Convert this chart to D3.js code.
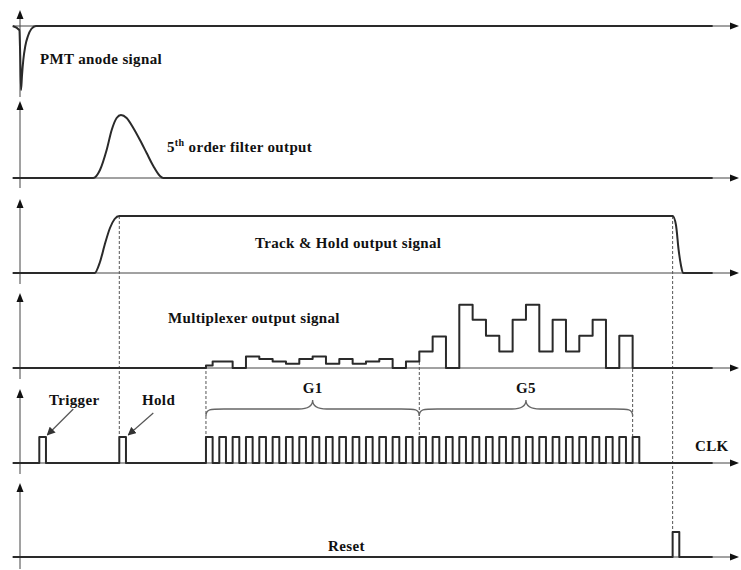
<!DOCTYPE html>
<html><head><meta charset="utf-8">
<script src="https://cdn.jsdelivr.net/npm/d3@7"></script>
<style>
body{margin:0;background:#fff}
text{font-family:"Liberation Serif","Times New Roman",serif;font-weight:bold;font-size:15px;fill:#111;letter-spacing:0.35px}
</style>
</head><body><svg id="c" width="741" height="570"></svg>
<script>
// time axis in clock periods (t = 0 at the first multiplexer clock)
const timeDomain = [-14, 40];
const signalEnd = 38;
const signalStart = -14.5;

// PMT anode signal (negative spike)
const pmtT = [-14.5, -14.0, -13.93, -13.87, -13.8, -13.7, -13.55, -13.35, -13.1, -12.75];
const pmtV = [0, -4, -30, -64, -50, -34, -20, -10, -3, 0];

// 5th order filter output
const filterT = [-14.5, -8.45, -7.95, -7.45, -7.07, -6.7, -6.375, -5.95, -5.45, -4.95, -4.45, -3.95, -3.45, -3.2];
const filterV = [0, 0, 8, 28, 48, 60, 63, 60, 50, 38, 25, 12, 2, 0];

// Track & Hold output
const holdT = [-14.5, -8.35, -7.95, -7.6, -7.2, -6.85, -6.5, 35.0, 35.25, 35.45, 35.62, 35.78];
const holdV = [0, 0, 11, 28, 45, 54, 57, 57, 48, 23, 8, 0];

// Multiplexer output: step start times and levels
const muxT = [-14.5, 0, 0.5, 2, 3, 4, 5, 6, 7, 8, 9, 10, 11, 12, 13, 14, 15, 16, 17, 18, 19, 20, 21, 22, 23, 24, 25, 26, 27, 28, 29, 30, 31, 32];
const muxV = [0, 2.6, 6.6, 0, 11.6, 9, 6.6, 4.3, 9, 11.6, 4.3, 9, 4.3, 6.6, 9, 0, 6.6, 16.6, 31.6, 0, 63.3, 48.3, 32.3, 16.6, 48.3, 63.3, 16.6, 48.3, 16.6, 32.3, 48.3, 0, 32.3, 0];

// CLK panel pulses (rise times), pulse width half a period
const triggerRise = [-12.5];
const holdRise = [-6.5];
const clockRise = [0, 1, 2, 3, 4, 5, 6, 7, 8, 9, 10, 11, 12, 13, 14, 15, 16, 17, 18, 19, 20, 21, 22, 23, 24, 25, 26, 27, 28, 29, 30, 31, 32];
const clkHigh = 26;
const resetRise = [35.0];
const resetHigh = 25;
const pulseWidth = 0.5;

// group braces
const groups = [{name: "G1", from: 0, to: 16}, {name: "G5", from: 16, to: 32}];
// marker (dashed) lines
const markers = [-6.5, 0, 16, 32, 35];

const svg = d3.select("#c");
const x = d3.scaleLinear().domain(timeDomain).range([19.3, 739.3]);

const baselines = [26, 178, 273, 368, 463, 557];
const tops = [10, 101, 199, 293, 389, 483];
const bottoms = [97, 188, 284, 379, 474, 569];
const yS = baselines.map(b => d3.scaleLinear().domain([0, 100]).range([b, b - 100]));

const axisCol = "#444", sigCol = "#2a2a2a";

// axes
baselines.forEach((b, i) => {
  svg.append("line").attr("x1", 20).attr("x2", 20).attr("y1", tops[i] + 4).attr("y2", bottoms[i])
    .attr("stroke", axisCol).attr("stroke-width", 1);
  svg.append("path").attr("d", `M20,${tops[i]} L16.5,${tops[i] + 9} L23.5,${tops[i] + 9} Z`).attr("fill", "#111");
  svg.append("line").attr("x1", 13).attr("x2", 733).attr("y1", b).attr("y2", b)
    .attr("stroke", axisCol).attr("stroke-width", 1);
  svg.append("path").attr("d", `M739,${b} L730,${b - 3.5} L730,${b + 3.5} Z`).attr("fill", "#111");
});

// dashed markers
const markerSpan = {"-6.5": [216, 437], "0": [366, 437], "16": [362, 437], "32": [369, 437], "35": [216, 532]};
markers.forEach(t => {
  const s = markerSpan[String(t)];
  svg.append("line").attr("x1", x(t)).attr("x2", x(t)).attr("y1", s[0]).attr("y2", s[1])
    .attr("stroke", "#555").attr("stroke-width", 1).attr("stroke-dasharray", "3,2");
});

function sig(ts, vs, i, curve) {
  const pts = ts.map((t, k) => [t, vs[k]]);
  pts.push([signalEnd, vs[vs.length - 1]]);
  svg.append("path").datum(pts)
    .attr("d", d3.line().x(d => x(d[0])).y(d => yS[i](d[1])).curve(curve))
    .attr("fill", "none").attr("stroke", sigCol).attr("stroke-width", 2).attr("stroke-linejoin", "round");
}
sig(pmtT, pmtV, 0, d3.curveMonotoneX);
sig(filterT, filterV, 1, d3.curveMonotoneX);
sig(holdT, holdV, 2, d3.curveMonotoneX);
sig(muxT, muxV, 3, d3.curveStepAfter);

function pulses(rises, h) {
  const ts = [signalStart], vs = [0];
  rises.forEach(r => { ts.push(r, r + pulseWidth); vs.push(h, 0); });
  return [ts, vs];
}
const clk = pulses(triggerRise.concat(holdRise, clockRise), clkHigh);
sig(clk[0], clk[1], 4, d3.curveStepAfter);
const rst = pulses(resetRise, resetHigh);
sig(rst[0], rst[1], 5, d3.curveStepAfter);

// braces
groups.forEach(g => {
  const a = x(g.from), b = x(g.to), m = (a + b) / 2;
  const yEnd = 416, yMid = 409, yTip = 400;
  const p = `M${a},${yEnd} C${a},${yMid} ${a + 4},${yMid} ${a + 18},${yMid} L${m - 14},${yMid} C${m - 4},${yMid} ${m},${yMid - 3} ${m},${yTip}` +
            ` C${m},${yMid - 3} ${m + 4},${yMid} ${m + 14},${yMid} L${b - 18},${yMid} C${b - 4},${yMid} ${b},${yMid} ${b},${yEnd}`;
  svg.append("path").attr("d", p).attr("fill", "none").attr("stroke", "#666").attr("stroke-width", 1.3);
  svg.append("text").attr("x", m).attr("y", 393).attr("text-anchor", "middle").text(g.name);
});

// arrow marker for Trigger / Hold
svg.append("defs").append("marker").attr("id", "ah").attr("viewBox", "0 0 10 10")
  .attr("refX", 9).attr("refY", 5).attr("markerWidth", 7).attr("markerHeight", 7).attr("orient", "auto")
  .append("path").attr("d", "M0,0 L10,5 L0,10 Z").attr("fill", "#333");
svg.append("line").attr("x1", x(triggerRise[0]) + 34).attr("y1", 409).attr("x2", x(triggerRise[0]) + 8).attr("y2", 435)
  .attr("stroke", "#555").attr("stroke-width", 1.2).attr("marker-end", "url(#ah)");
svg.append("line").attr("x1", x(holdRise[0]) + 34).attr("y1", 413).attr("x2", x(holdRise[0]) + 9).attr("y2", 435)
  .attr("stroke", "#555").attr("stroke-width", 1.2).attr("marker-end", "url(#ah)");

// labels
svg.append("text").attr("x", 40).attr("y", 64).text("PMT anode signal");
const ft = svg.append("text").attr("x", 167).attr("y", 152);
ft.append("tspan").text("5");
ft.append("tspan").attr("dy", -6).style("font-size", "10px").text("th");
ft.append("tspan").attr("dy", 6).text(" order filter output");
svg.append("text").attr("x", 255).attr("y", 248).text("Track & Hold output signal");
svg.append("text").attr("x", 168).attr("y", 323).text("Multiplexer output signal");
svg.append("text").attr("x", 49).attr("y", 405).text("Trigger");
svg.append("text").attr("x", 142).attr("y", 405).text("Hold");
svg.append("text").attr("x", 695).attr("y", 451).text("CLK");
svg.append("text").attr("x", 328).attr("y", 551).text("Reset");
</script>
</body></html>
